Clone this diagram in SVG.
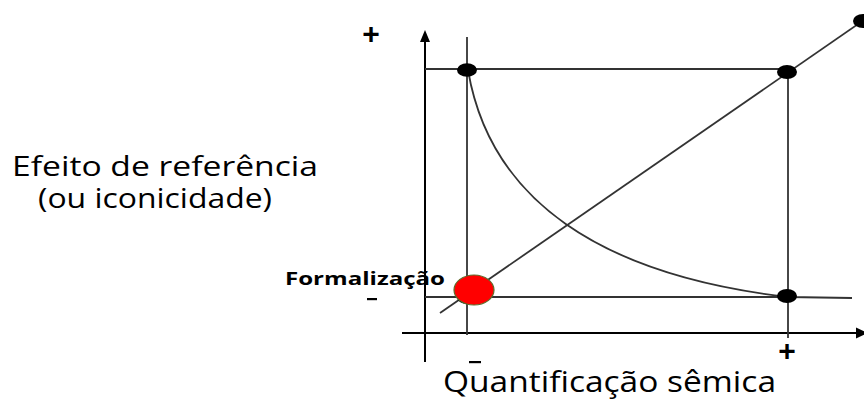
<svg xmlns="http://www.w3.org/2000/svg" width="864" height="400" viewBox="0 0 864 400">
<defs>
<style>
.ax{stroke:#000;stroke-width:2;fill:none}
.ln{stroke:#333;stroke-width:1.8;fill:none}
.dot{fill:#000}
.t{font-family:"Open Sans","Liberation Sans",sans-serif;fill:#000}
.sgn{font-family:"Liberation Sans",sans-serif;font-weight:bold;fill:#000}
</style>
</defs>
<rect width="864" height="400" fill="#fff"/>
<g id="axes">
<line class="ax" x1="425" y1="362" x2="425" y2="40"/>
<polygon points="425,30 420,42 430,42" fill="#000"/>
<line class="ax" x1="402" y1="333" x2="860" y2="333"/>
<polygon points="868,333 856,327.5 856,338.5" fill="#000"/>
</g>
<g id="connectors">
<line class="ln" x1="467" y1="37" x2="467" y2="335"/>
<line class="ln" x1="788" y1="69" x2="788" y2="338"/>
<line class="ln" x1="425" y1="69" x2="788" y2="69"/>
<line class="ln" x1="425" y1="297" x2="788" y2="297"/>
<path class="ln" d="M468,70 C490,200 600,275 788,297 L852,298"/>
<line class="ln" x1="440" y1="313" x2="864" y2="20"/>
</g>
<g id="node-top-left"><ellipse class="dot" cx="467" cy="70" rx="10" ry="6.8"/></g>
<g id="node-top-right"><ellipse class="dot" cx="787" cy="72" rx="10" ry="7"/></g>
<g id="node-bottom-right"><ellipse class="dot" cx="787" cy="296" rx="10" ry="7"/></g>
<g id="node-corner"><ellipse class="dot" cx="863" cy="21" rx="10" ry="7"/></g>
<g id="node-formalizacao">
<ellipse class="dot" cx="467" cy="297" rx="10" ry="7"/>
<ellipse cx="474" cy="290" rx="20" ry="15" fill="#ff0000" stroke="#5c6b2a" stroke-width="1.2"/>
<text class="t" x="285" y="285" font-size="18" font-weight="bold" textLength="160" lengthAdjust="spacingAndGlyphs">Formalização</text>
</g>
<g id="labels">
<text class="sgn" x="371" y="44" font-size="30" text-anchor="middle">+</text>
<rect x="367" y="298" width="10" height="2.2" fill="#000"/>
<rect x="469" y="361" width="12" height="2.2" fill="#000"/>
<text class="sgn" x="787" y="361" font-size="30" text-anchor="middle">+</text>
<text class="t" x="12" y="176" font-size="28" textLength="306" lengthAdjust="spacingAndGlyphs">Efeito de referência</text>
<text class="t" x="38" y="208" font-size="28" textLength="234" lengthAdjust="spacingAndGlyphs">(ou iconicidade)</text>
<text class="t" x="443" y="392" font-size="30" textLength="333" lengthAdjust="spacingAndGlyphs">Quantificação sêmica</text>
</g>
</svg>
